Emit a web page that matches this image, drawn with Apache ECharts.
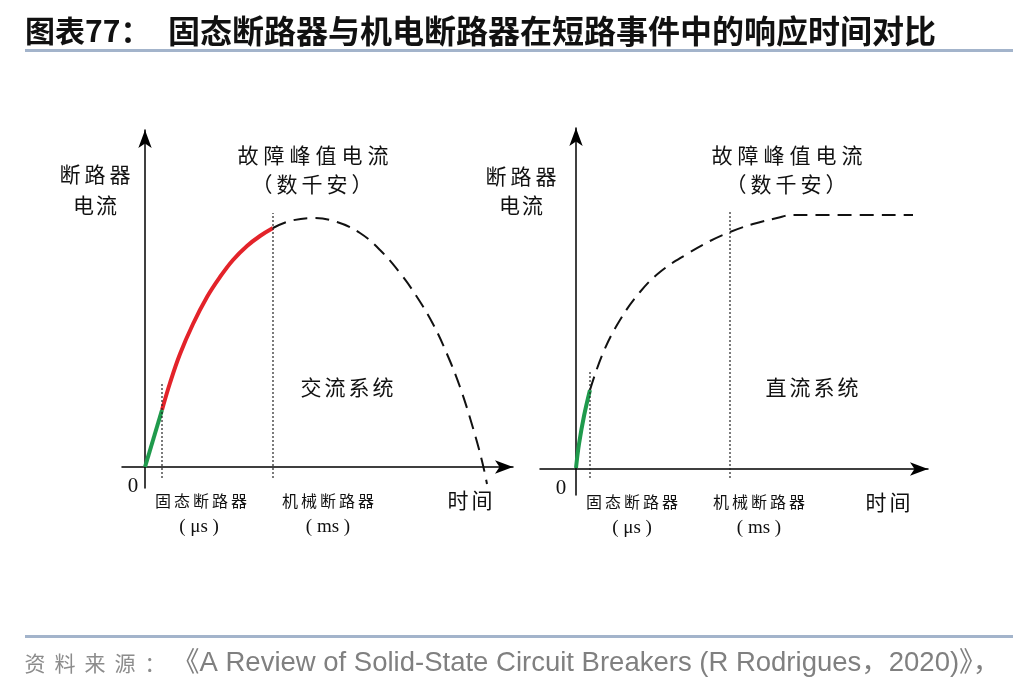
<!DOCTYPE html>
<html>
<head>
<meta charset="utf-8">
<script src="https://cdn.jsdelivr.net/npm/echarts@6/dist/echarts.min.js"></script>
<style>
  html, body { margin: 0; padding: 0; background: #fff; }
  #chart { width: 1036px; height: 688px; }
</style>
</head>
<body>
<div id="chart"></div>
<script>
// values: [time, current] in arbitrary units
var acGreen = [[0, 0], [17, 57]];
var acRed = [[17, 57], [25, 84], [35, 113], [48, 143], [62, 170], [75, 190], [88, 207],
  [102, 221], [115, 231], [128, 239]];
var acDashed = [[128, 239], [145, 246], [168, 249], [192, 245], [215, 234], [235, 217], [255, 194],
  [272, 170], [288, 143], [302, 113], [315, 80], [328, 39], [337, 6], [342, -17]];
var acBreakers = [[17, 84], [128, 254]]; // [trip time, top of marker]

var dcGreen = [[0, 1], [3, 25], [8, 53], [14, 79]];
var dcDashed = [[14, 79], [27, 116], [44, 149], [64, 177], [84, 197], [111, 215], [134, 228],
  [154, 237], [177, 245], [201, 251], [217, 254], [337, 254]];
var dcBreakers = [[14, 99], [154, 257]];

var titleText = '固态断路器与机电断路器在短路事件中的响应时间对比';
var sourceLabel = '资料来源：';
var sourceText = '《A Review of Solid-State Circuit Breakers (R Rodrigues，2020)》，';

var chart = echarts.init(document.getElementById('chart'));

var cjk = '"Noto Sans CJK SC"';
var serif = '"Liberation Serif", "Noto Sans CJK SC"';

function mkAxis(idx, min, max) {
  return {
    type: 'value', gridIndex: idx, min: min, max: max,
    axisLine: {
      show: true, onZero: true,
      symbol: ['none', 'arrow'], symbolSize: [10, 18],
      lineStyle: { color: '#000', width: 1.5 }
    },
    axisTick: { show: false },
    axisLabel: { show: false },
    splitLine: { show: false }
  };
}

function curve(data, idx, color, width, dashed) {
  return {
    type: 'line', xAxisIndex: idx, yAxisIndex: idx, data: data,
    smooth: 0.4, symbol: 'none', silent: true,
    lineStyle: { color: color, width: width, type: dashed ? [14, 8] : 'solid' }
  };
}

function breakerLines(list, idx, bottom) {
  return list.map(function (b) {
    return {
      type: 'line', xAxisIndex: idx, yAxisIndex: idx, symbol: 'none', silent: true,
      data: [[b[0], bottom], [b[0], b[1]]],
      lineStyle: { color: '#222', width: 1.2, type: [2, 2] }
    };
  });
}

function txt(x, y, s, size, family, extra) {
  var st = {
    text: s, x: x, y: y, align: 'center', verticalAlign: 'middle',
    fontSize: size || 21, fontFamily: family || cjk, fill: '#111'
  };
  if (extra) Object.assign(st, extra);
  return { type: 'text', style: st, z: 10 };
}

// CJK label with wide character spacing, centred on x
function spaced(x, y, s, step, size, extra) {
  var chars = Array.from(s);
  var x0 = x - (chars.length - 1) * step / 2;
  return chars.map(function (c, i) { return txt(x0 + i * step, y, c, size, cjk, extra); });
}

var graphics = [
  txt(25, 31, '图表77：', 30, cjk, { align: 'left', fontWeight: 'bold' }),
  txt(168, 31, titleText, 32, cjk, { align: 'left', fontWeight: 'bold' }),
  { type: 'rect', shape: { x: 25, y: 49, width: 988, height: 3 }, style: { fill: '#a3b4cb' } },
  { type: 'rect', shape: { x: 25, y: 635, width: 988, height: 3 }, style: { fill: '#a3b4cb' } },
  txt(172, 663, sourceText, 27.5, '"Liberation Sans", ' + cjk, { align: 'left', fill: '#808080' }),

  txt(133, 486, '0', 21, serif),
  txt(199, 527, '( μs )', 19, serif),
  txt(328, 527, '( ms )', 19, serif),

  txt(561, 488, '0', 21, serif),
  txt(632, 528, '( μs )', 19, serif),
  txt(759, 528, '( ms )', 19, serif)
];

graphics = graphics.concat(
  spaced(95, 663, sourceLabel, 30, 21, { fill: '#8c8c8c' }),
  // left panel (AC)
  spaced(95, 174, '断路器', 25), spaced(95, 205, '电流', 23),
  spaced(313, 155, '故障峰值电流', 26), spaced(312, 184, '（数千安）', 25),
  spaced(347, 387, '交流系统', 24),
  spaced(201, 501, '固态断路器', 19, 16), spaced(328, 501, '机械断路器', 19, 16),
  spaced(470, 500, '时间', 24),
  // right panel (DC)
  spaced(521, 176, '断路器', 25), spaced(521, 205, '电流', 23),
  spaced(787, 155, '故障峰值电流', 26), spaced(786, 184, '（数千安）', 25),
  spaced(812, 387, '直流系统', 24),
  spaced(632, 502, '固态断路器', 19, 16), spaced(759, 502, '机械断路器', 19, 16),
  spaced(888, 502, '时间', 24)
);

chart.setOption({
  backgroundColor: '#fff',
  animation: false,
  grid: [
    { left: 122, top: 130, width: 391, height: 358 },
    { left: 540, top: 128, width: 388, height: 367 }
  ],
  xAxis: [mkAxis(0, -23, 368), mkAxis(1, -36, 352)],
  yAxis: [mkAxis(0, -21, 337), mkAxis(1, -26, 341)],
  series: [
    curve(acRed, 0, '#e3232a', 4),
    curve(acGreen, 0, '#1f9a4c', 4),
    curve(acDashed, 0, '#111', 2, true),
    curve(dcGreen, 1, '#1f9a4c', 4),
    curve(dcDashed, 1, '#111', 2, true)
  ].concat(breakerLines(acBreakers, 0, -11), breakerLines(dcBreakers, 1, -9)),
  graphic: graphics
});
</script>
</body>
</html>
